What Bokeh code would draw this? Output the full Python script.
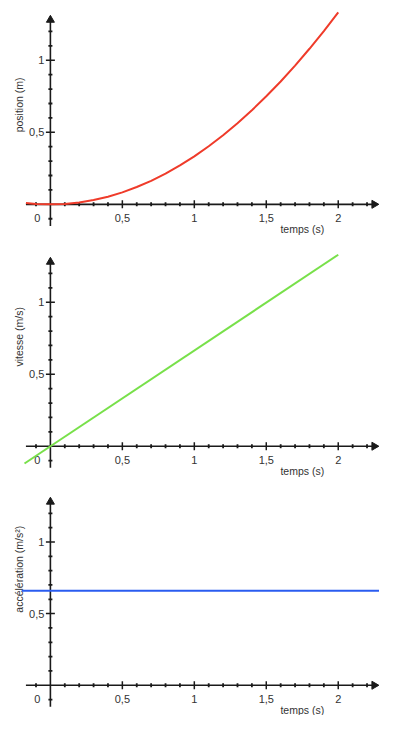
import math
from bokeh.plotting import figure
from bokeh.layouts import column
from bokeh.models import Range1d
from bokeh.embed import file_html
from bokeh.resources import INLINE
from bokeh.core.properties import value

# ---------------- data ----------------
t_pos = [-0.17, -0.1, 0.0, 0.1, 0.2, 0.3, 0.4, 0.5, 0.6, 0.7, 0.8, 0.9, 1.0,
         1.1, 1.2, 1.3, 1.4, 1.5, 1.6, 1.7, 1.8, 1.9, 2.0]
position = [0.010, 0.003, 0.0, 0.003, 0.013, 0.030, 0.053, 0.083, 0.120, 0.163,
            0.213, 0.270, 0.333, 0.403, 0.480, 0.563, 0.653, 0.750, 0.853,
            0.963, 1.080, 1.203, 1.333]

t_vit = [-0.18, 2.0]
vitesse = [-0.12, 1.33]

t_acc = [-0.2, 2.3]
acceleration = [0.66, 0.66]

x_tick_pos = [0, 0.5, 1, 1.5, 2]
x_tick_labels = ["0", "0,5", "1", "1,5", "2"]
x_major = [0.5, 1, 1.5, 2]
x_minor = [-0.1, 0.1, 0.2, 0.3, 0.4, 0.6, 0.7, 0.8, 0.9, 1.1, 1.2, 1.3, 1.4,
           1.6, 1.7, 1.8, 1.9, 2.1, 2.2]
y_major = [0.5, 1]
y_tick_labels = ["0,5", "1"]
y_minor = [-0.1, 0.1, 0.2, 0.3, 0.4, 0.6, 0.7, 0.8, 0.9, 1.1, 1.2]

FONT = value("Liberation Sans")
AX = "#1a1a1a"
TXT = "#333333"
W = 379


def panel(height, y_bottom, ylabel, ylabel_y, x_data, y_data, color):
    p = figure(width=W, height=height, output_backend="svg",
               toolbar_location=None, min_border=0,
               x_range=Range1d(-0.3467, 2.2867),
               y_range=Range1d(y_bottom, 1.415))
    p.axis.visible = False
    p.grid.visible = False
    p.outline_line_color = None
    p.background_fill_color = "white"
    p.border_fill_color = "white"

    # axes
    p.segment(x0=[-0.17], y0=[0], x1=[2.25], y1=[0], line_color=AX, line_width=1.6)
    p.segment(x0=[0], y0=[-0.15], x1=[0], y1=[1.28], line_color=AX, line_width=1.6)
    p.scatter(x=[2.25], y=[0], marker="triangle", angle=-math.pi / 2, size=8,
              fill_color=AX, line_color=AX)
    p.scatter(x=[0], y=[1.28], marker="triangle", size=8,
              fill_color=AX, line_color=AX)

    # ticks
    p.scatter(x=x_major, y=[0] * len(x_major), marker="dash", angle=math.pi / 2,
              size=8, line_color=AX, line_width=1.5)
    p.scatter(x=x_minor, y=[0] * len(x_minor), marker="dash", angle=math.pi / 2,
              size=4, line_color=AX, line_width=1.8)
    p.scatter(x=[0] * len(y_major), y=y_major, marker="dash",
              size=9, line_color=AX, line_width=1.5)
    p.scatter(x=[0] * len(y_minor), y=y_minor, marker="dash",
              size=4, line_color=AX, line_width=1.8)

    # tick labels
    xoff = [-13, 0, 0, 0, 0]
    p.text(x=x_tick_pos, y=[0] * len(x_tick_pos), text=x_tick_labels,
           x_offset=xoff, y_offset=14, text_font=FONT, text_font_size="11px",
           text_align="center", text_baseline="middle", text_color=TXT)
    p.text(x=[0] * len(y_major), y=y_major, text=y_tick_labels,
           x_offset=-6, text_font=FONT, text_font_size="11px",
           text_align="right", text_baseline="middle", text_color=TXT)

    # axis titles
    p.text(x=[1.75], y=[0], text=["temps (s)"], y_offset=25, text_font=FONT,
           text_font_size="10.5px", text_align="center", text_baseline="middle",
           text_color=TXT)
    p.text(x=[-0.22], y=[ylabel_y], text=[ylabel], angle=math.pi / 2,
           text_font=FONT, text_font_size="10.5px", text_align="center",
           text_baseline="middle", text_color=TXT)

    # data curve
    p.line(x=x_data, y=y_data, line_color=color, line_width=2)
    return p


p1 = panel(242, -0.265, "position (m)", 0.69, t_pos, position, "#ef3b2a")
p2 = panel(240, -0.252, "vitesse (m/s)", 0.76, t_vit, vitesse, "#78e04a")
p3 = panel(233, -0.211, "accélération (m/s²)", 0.81, t_acc, acceleration, "#2a5cf0")

layout = column(p1, p2, p3, spacing=0)
open("out.html", "w").write(file_html(layout, INLINE))
